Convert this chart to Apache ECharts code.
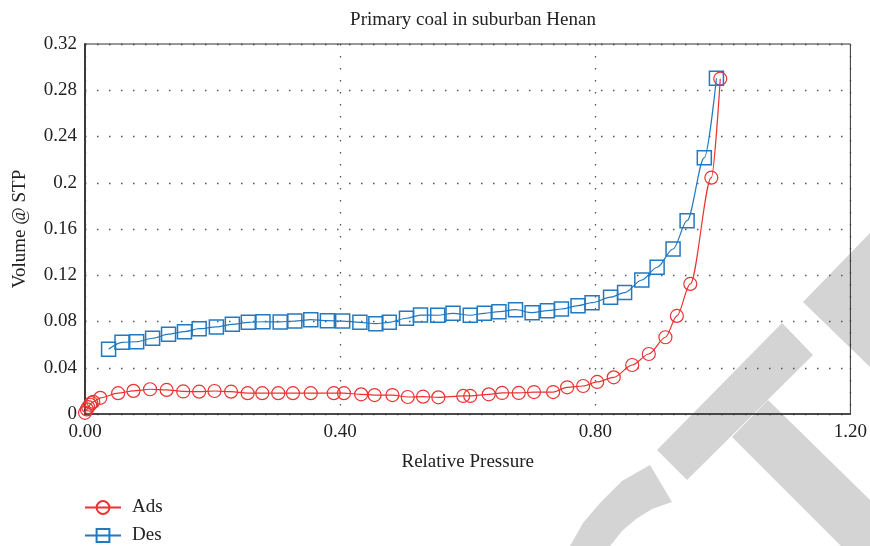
<!DOCTYPE html>
<html>
<head>
<meta charset="utf-8">
<script src="https://cdn.jsdelivr.net/npm/echarts@6/dist/echarts.min.js"></script>
<style>
    html, body { margin: 0; padding: 0; background: #fff; }
    #main { width: 870px; height: 546px; }
</style>
</head>
<body>
<div id="main"></div>
<script>
/**
 * Primary coal in suburban Henan - adsorption / desorption
 */
var adsX = [0.000, 0.003, 0.005, 0.008, 0.010, 0.013, 0.024, 0.052, 0.076, 0.102, 0.128, 0.154, 0.179, 0.203, 0.229, 0.255, 0.278, 0.303, 0.326, 0.354, 0.390, 0.406, 0.433, 0.454, 0.482, 0.506, 0.530, 0.554, 0.593, 0.604, 0.633, 0.654, 0.680, 0.704, 0.734, 0.756, 0.781, 0.803, 0.829, 0.858, 0.884, 0.910, 0.928, 0.949, 0.982, 0.996];
var adsY = [0.001, 0.004, 0.006, 0.008, 0.0095, 0.0105, 0.014, 0.018, 0.020, 0.0214, 0.0208, 0.0195, 0.0193, 0.0199, 0.0193, 0.018, 0.018, 0.018, 0.018, 0.018, 0.018, 0.018, 0.017, 0.0164, 0.0164, 0.0147, 0.015, 0.0144, 0.0156, 0.0156, 0.017, 0.0182, 0.0182, 0.019, 0.019, 0.0231, 0.0242, 0.0277, 0.0317, 0.0424, 0.0519, 0.0664, 0.0848, 0.1125, 0.2044, 0.290];

var desX = [0.037, 0.058, 0.081, 0.106, 0.131, 0.156, 0.179, 0.206, 0.231, 0.256, 0.279, 0.306, 0.329, 0.354, 0.380, 0.404, 0.431, 0.456, 0.477, 0.504, 0.526, 0.553, 0.577, 0.604, 0.626, 0.649, 0.675, 0.701, 0.725, 0.747, 0.773, 0.795, 0.824, 0.846, 0.873, 0.897, 0.922, 0.944, 0.971, 0.990];
var desY = [0.056, 0.062, 0.0625, 0.0655, 0.069, 0.0712, 0.0738, 0.0753, 0.0776, 0.0793, 0.0798, 0.0796, 0.0804, 0.0816, 0.0807, 0.0804, 0.0793, 0.0781, 0.0793, 0.0828, 0.0856, 0.0854, 0.0871, 0.0854, 0.0871, 0.0885, 0.0902, 0.0876, 0.0894, 0.0908, 0.0937, 0.0963, 0.101, 0.105, 0.1159, 0.1269, 0.1427, 0.1672, 0.2217, 0.2904];

var seriesNames = ['Ads', 'Des'];
var xTicks = [0, 0.4, 0.8, 1.2];   // x轴刻度
var yTicks = [0, 0.04, 0.08, 0.12, 0.16, 0.2, 0.24, 0.28, 0.32];

var FONT = 'Liberation Serif';
var FS = 19;
var RED = '#ec3232';
var BLUE = '#2279c0';

function pairs(xs, ys) {
    var out = [];
    for (var i = 0; i < xs.length; i++) {
        out.push([xs[i], ys[i]]);
    }
    return out;
}

var chart = echarts.init(document.getElementById('main'));

// 背景水印（浅灰色）
var wm = '#d4d4d4';
var watermark = [
    [[803, 302], [870, 233], [870, 367]],
    [[657, 450], [782, 323], [813, 355], [687, 480]],
    [[768, 400], [870, 500], [870, 546], [841, 546], [732, 437]],
    [[650, 465], [622, 481], [600, 503], [583, 523], [570, 546], [610, 546], [622, 531], [636, 519], [652, 509], [672, 502]]
].map(function (pts) {
    return {
        type: 'polygon',
        z: -10,
        silent: true,
        shape: { points: pts },
        style: { fill: wm }
    };
});

var option = {
    animation: false,
    backgroundColor: '#fff',
    title: {
        text: 'Primary coal in suburban Henan',
        left: 468,
        top: 6,
        textAlign: 'center',
        textStyle: {
            fontFamily: FONT,
            fontWeight: 'normal',
            fontSize: FS,
            color: '#222'
        }
    },
    graphic: {
        z: -10,
        elements: watermark
    },
    legend: {
        orient: 'vertical',
        left: 84,
        top: 498,
        padding: 0,
        itemWidth: 36,
        itemHeight: 16,
        itemGap: 9,
        data: seriesNames,
        textStyle: {
            fontFamily: FONT,
            fontSize: FS,
            color: '#222',
            padding: [0, 0, 0, 6]
        }
    },
    grid: {
        left: 85,
        right: 19,
        top: 44,
        bottom: 132,
        show: true,
        z: 1,
        borderColor: '#333',
        borderWidth: 1,
        backgroundColor: 'transparent'
    },
    xAxis: {
        type: 'value',
        min: xTicks[0],
        max: xTicks[xTicks.length - 1],
        interval: 0.4,
        name: 'Relative Pressure',
        nameLocation: 'middle',
        nameGap: 39,
        nameTextStyle: { fontFamily: FONT, fontSize: FS, color: '#222' },
        axisLine: { show: true, lineStyle: { color: '#333', width: 1.5 } },
        axisTick: { show: false },
        axisLabel: {
            fontFamily: FONT,
            fontSize: FS,
            color: '#222',
            margin: 9,
            formatter: function (v) { return v.toFixed(2); }
        },
        splitLine: {
            show: true,
            lineStyle: { color: '#555', type: [1.5, 10.5], width: 1.3 }
        }
    },
    yAxis: {
        type: 'value',
        min: yTicks[0],
        max: yTicks[yTicks.length - 1],
        interval: 0.04,
        name: 'Volume @ STP',
        nameLocation: 'middle',
        nameGap: 55,
        nameTextStyle: { fontFamily: FONT, fontSize: FS, color: '#222' },
        axisLine: { show: true, lineStyle: { color: '#444', width: 2 } },
        axisTick: { show: false },
        axisLabel: {
            fontFamily: FONT,
            fontSize: FS,
            color: '#222',
            margin: 8,
            formatter: function (v) { return String(+v.toFixed(2)); }
        },
        splitLine: {
            show: true,
            lineStyle: { color: '#555', type: [1.5, 10.5], width: 1.3 }
        }
    },
    series: [{
        name: seriesNames[0],
        type: 'line',
        data: pairs(adsX, adsY),
        smooth: 0.3,
        smoothMonotone: 'x',
        symbol: 'circle',
        symbolSize: 13,
        showAllSymbol: true,
        lineStyle: { color: RED, width: 1.2 },
        itemStyle: { color: 'rgba(255,255,255,0)', borderColor: RED, borderWidth: 1.2 }
    }, {
        name: seriesNames[1],
        type: 'line',
        data: pairs(desX, desY),
        smooth: 0.3,
        smoothMonotone: 'x',
        symbol: 'rect',
        symbolSize: 14,
        showAllSymbol: true,
        lineStyle: { color: BLUE, width: 1.2 },
        itemStyle: { color: 'rgba(255,255,255,0)', borderColor: BLUE, borderWidth: 1.5 }
    }]
};

chart.setOption(option);
</script>
</body>
</html>
